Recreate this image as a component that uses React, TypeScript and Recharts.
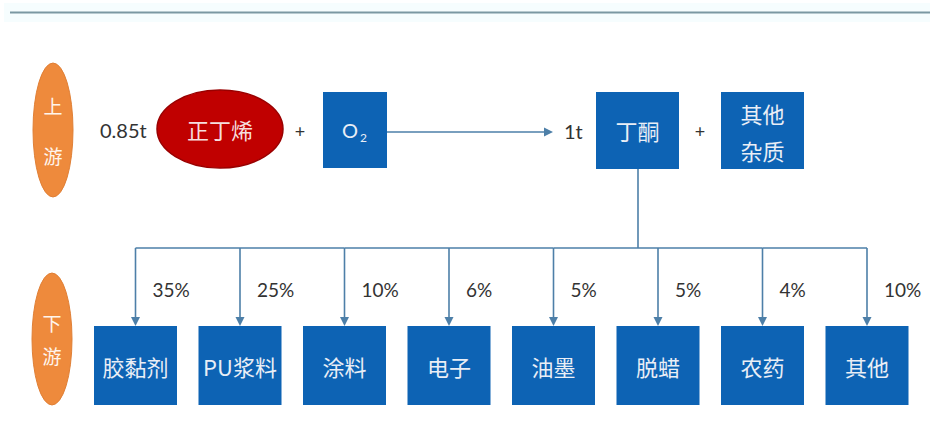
import React from "react";
import { Bar, ComposedChart, Customized, LabelList, XAxis, YAxis } from "recharts";

// downstream uses of butanone (MEK) and their shares, %
const uses = ["胶黏剂", "PU浆料", "涂料", "电子", "油墨", "脱蜡", "农药", "其他"];
const shares = [35, 25, 10, 6, 5, 5, 4, 10];

// upstream row
const feedAmount = "0.85t";
const feedName = "正丁烯";
const oxidant = "O";
const productAmount = "1t";
const productName = "丁酮";
const byproduct = ["其他", "杂质"];
const stageLabels = [["上", "游"], ["下", "游"]];

const data = uses.map((name, i) => ({ name, share: shares[i] }));

const W = 930;
const H = 444;
const M = { top: 0, right: 11, bottom: 0, left: 83 };
const BAND = (W - M.left - M.right) / data.length;

const BLUE = "#0d63b4";
const LINE = "#4d7fa8";
const DARK = "#333333";
const BOX_TEXT = "#e9eef6";
const CJK = "'Noto Sans CJK SC', sans-serif";
const LATIN = "Lato, 'Noto Sans', sans-serif";

const BUS_Y = 248;
const BOX_TOP = 326;
const BOX_H = 79;

function UseBox(props: any) {
  const { x, width, index } = props;
  const cx = x + width / 2;
  const name = data[index].name;
  return (
    <g>
      {index < data.length - 1 && (
        <line x1={cx} y1={BUS_Y} x2={cx + BAND} y2={BUS_Y} stroke={LINE} strokeWidth={1.6} />
      )}
      <line x1={cx} y1={BUS_Y} x2={cx} y2={BOX_TOP - 7} stroke={LINE} strokeWidth={1.6} />
      <polygon
        points={`${cx - 4.5},${BOX_TOP - 9} ${cx + 4.5},${BOX_TOP - 9} ${cx},${BOX_TOP}`}
        fill={LINE}
      />
      <rect x={x} y={BOX_TOP} width={width} height={BOX_H} fill={BLUE} />
      <text
        x={cx}
        y={BOX_TOP + BOX_H / 2}
        textAnchor="middle"
        dominantBaseline="central"
        fill={BOX_TEXT}
        fontSize={22}
        fontFamily={CJK}
      >
        {name}
      </text>
    </g>
  );
}

function ShareLabel(props: any) {
  const { x, width, value } = props;
  return (
    <text
      x={x + width / 2 + 17}
      y={289}
      dominantBaseline="central"
      fill={DARK}
      fontSize={19}
      fontFamily={LATIN}
    >
      {`${value}%`}
    </text>
  );
}

function StageOval({ cx, cy, ry, chars, gap }: { cx: number; cy: number; ry: number; chars: string[]; gap: number }) {
  return (
    <g>
      <ellipse cx={cx} cy={cy} rx={20} ry={ry} fill="#ee8a3c" stroke="#e07f35" strokeWidth={1} />
      {chars.map((c, i) => (
        <text
          key={c + i}
          x={cx}
          y={cy + (i - 0.5) * gap}
          textAnchor="middle"
          dominantBaseline="central"
          fill="#fff5ec"
          fontSize={19}
          fontFamily={CJK}
        >
          {c}
        </text>
      ))}
    </g>
  );
}

function Upstream() {
  return (
    <g>
      {/* header rule */}
      <rect x={4} y={3} width={926} height={19} fill="#f6fdfe" />
      <line x1={10} y1={12.5} x2={930} y2={12.5} stroke="#7b98a2" strokeWidth={2} />

      <StageOval cx={53} cy={130} ry={67} chars={stageLabels[0]} gap={50} />
      <StageOval cx={52} cy={339} ry={66} chars={stageLabels[1]} gap={33} />

      <text x={100} y={130} dominantBaseline="central" fill={DARK} fontSize={20} fontFamily={LATIN}>
        {feedAmount}
      </text>
      <ellipse cx={220} cy={129} rx={63} ry={39} fill="#c00000" stroke="#9a0000" strokeWidth={1.5} />
      <text x={220} y={129} textAnchor="middle" dominantBaseline="central" fill="#f6dede" fontSize={22} fontFamily={CJK}>
        {feedName}
      </text>

      <text x={300} y={131} textAnchor="middle" dominantBaseline="central" fill={DARK} fontSize={18} fontFamily={LATIN}>
        +
      </text>

      <rect x={323} y={92} width={64} height={76} fill={BLUE} />
      <text x={350} y={130} textAnchor="middle" dominantBaseline="central" fill={BOX_TEXT} fontSize={20} fontFamily={LATIN}>
        {oxidant}
      </text>
      <text x={360} y={137} dominantBaseline="central" fill={BOX_TEXT} fontSize={12} fontFamily={LATIN}>
        2
      </text>

      <line x1={387} y1={132} x2={545} y2={132} stroke={LINE} strokeWidth={1.6} />
      <polygon points="544,127.5 553,132 544,136.5" fill={LINE} />

      <text x={564} y={131} dominantBaseline="central" fill={DARK} fontSize={20} fontFamily={LATIN}>
        {productAmount}
      </text>

      <rect x={596} y={92} width={83} height={77} fill={BLUE} />
      <text x={637.5} y={130} textAnchor="middle" dominantBaseline="central" fill={BOX_TEXT} fontSize={22} fontFamily={CJK}>
        {productName}
      </text>

      <text x={700} y={131} textAnchor="middle" dominantBaseline="central" fill={DARK} fontSize={18} fontFamily={LATIN}>
        +
      </text>

      <rect x={721} y={92} width={83} height={77} fill={BLUE} />
      {byproduct.map((t, i) => (
        <text
          key={t}
          x={762.5}
          y={113 + i * 37}
          textAnchor="middle"
          dominantBaseline="central"
          fill={BOX_TEXT}
          fontSize={22}
          fontFamily={CJK}
        >
          {t}
        </text>
      ))}

      {/* product feeds the downstream bus */}
      <line x1={638} y1={169} x2={638} y2={BUS_Y} stroke={LINE} strokeWidth={1.6} />
    </g>
  );
}

export default function App() {
  return (
    <div style={{ position: "absolute", left: 0, top: 0, width: W, height: H, background: "#fff" }}>
      <ComposedChart width={W} height={H} data={data} margin={M}>
        <XAxis dataKey="name" type="category" hide />
        <YAxis type="number" domain={[0, 40]} hide />
        <Customized component={<Upstream />} />
        <Bar dataKey="share" barSize={83} shape={<UseBox />} isAnimationActive={false}>
          <LabelList dataKey="share" content={<ShareLabel />} />
        </Bar>
      </ComposedChart>
    </div>
  );
}
